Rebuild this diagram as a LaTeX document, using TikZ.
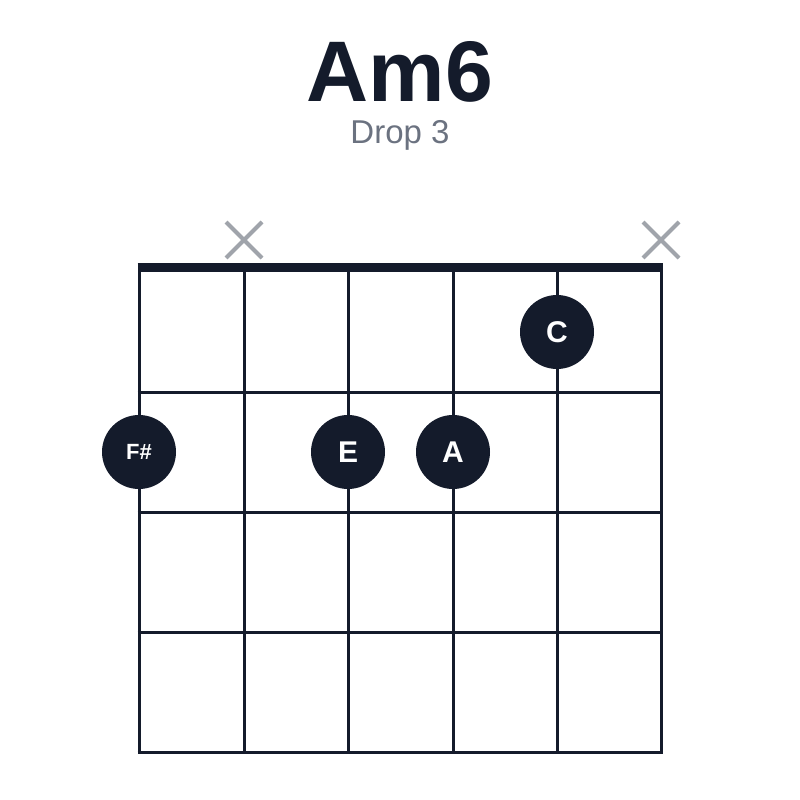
\documentclass[tikz,border=0pt]{standalone}
\usepackage{fontspec}
\setmainfont{Liberation Sans}
\usetikzlibrary{positioning}
\definecolor{ink}{HTML}{141B2B}
\definecolor{subgray}{HTML}{6B7280}
\definecolor{mutegray}{HTML}{A0A4AB}
\begin{document}
\begin{tikzpicture}[x=1pt,y=-1pt,
 finger/.style={circle,fill=ink,minimum size=74pt,inner sep=0pt,text=white,font=\bfseries\fontsize{30}{30}\selectfont},
 mute/.style={draw=mutegray,line width=4pt}]
 \useasboundingbox (0,0) rectangle (800,800);
 \node[font=\bfseries\fontsize{86}{86}\selectfont,text=ink] (title) at (400,72) {Am6};
 \node[font=\fontsize{33}{33}\selectfont,text=subgray] (sub) at (400,135) {Drop 3};
 % strings and frets
 \foreach \x in {139,244,348,453,557,661}
   \draw[ink,line width=3pt] (\x,267) -- (\x,752);
 \foreach \y in {392,512,632,752}
   \draw[ink,line width=3pt] (137.5,\y) -- (662.5,\y);
 \draw[ink,line width=9pt] (137.5,267) -- (662.5,267);
 % muted strings
 \foreach \x in {244,661}
   \draw[mute] (\x-18,222) -- (\x+18,258) (\x-18,258) -- (\x+18,222);
 % fingers
 \node[finger] (c) at (557,332) {C};
 \node[finger,font=\bfseries\fontsize{22}{22}\selectfont] (fs) at (139,452) {F\#};
 \node[finger] (e) at (348,452) {E};
 \node[finger] (a) at (453,452) {A};
\end{tikzpicture}
\end{document}
